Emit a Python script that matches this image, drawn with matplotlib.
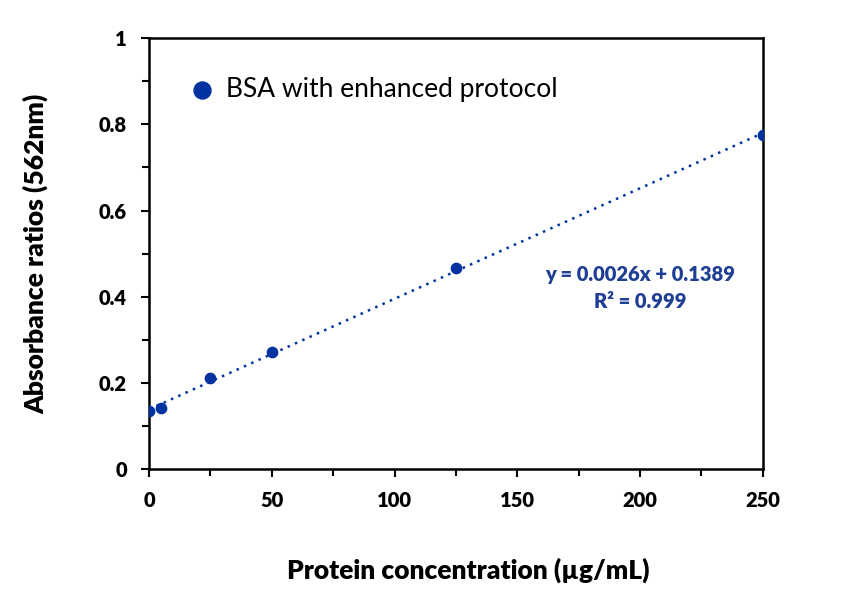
import numpy as np
import matplotlib
matplotlib.use("Agg")
import matplotlib.pyplot as plt
from matplotlib.ticker import MultipleLocator

plt.rcParams['font.family'] = ['Lato', 'DejaVu Sans']

concentration = [0, 5, 25, 50, 125, 250]
absorbance = [0.135, 0.141, 0.211, 0.271, 0.466, 0.775]
series_label = "BSA with enhanced protocol"
equation_text = "y = 0.0026x + 0.1389\nR² = 0.999"

color = "#0033a0"
text_color = "#1f3f94"

fig = plt.figure(figsize=(8.58, 6.06), dpi=100)
ax = fig.add_axes([0.1737, 0.226, 0.7153, 0.711])

ax.scatter(concentration, absorbance, s=55, color=color, zorder=3, label=series_label)
slope, intercept = np.polyfit(concentration, absorbance, 1)
xs = np.array([min(concentration), max(concentration)])
ax.plot(xs, slope * xs + intercept, linestyle=(0, (1, 2.2)), color=color, lw=1.8, zorder=2)

ax.set_xlim(0, 250)
ax.set_ylim(0, 1)
ax.xaxis.set_major_locator(MultipleLocator(50))
ax.xaxis.set_minor_locator(MultipleLocator(25))
ax.yaxis.set_major_locator(MultipleLocator(0.2))
ax.yaxis.set_minor_locator(MultipleLocator(0.1))
ax.set_yticks([0, 0.2, 0.4, 0.6, 0.8, 1.0])
ax.set_yticklabels(["0", "0.2", "0.4", "0.6", "0.8", "1"])
ax.tick_params(which='both', direction='out', width=1.5, labelsize=14.5, pad=10)
ax.tick_params(which='major', length=6)
ax.tick_params(which='minor', length=5)
for lab in ax.get_xticklabels() + ax.get_yticklabels():
    lab.set_fontweight('heavy')
for sp in ax.spines.values():
    sp.set_linewidth(1.8)

ax.set_xlabel("Protein concentration (µg/mL)", fontsize=19, fontweight='heavy')
ax.xaxis.set_label_coords(0.52, -0.205)
ax.set_ylabel("Absorbance ratios (562nm)", fontsize=19, fontweight='heavy', labelpad=36)

leg = ax.legend(loc='upper left', bbox_to_anchor=(0.022, 0.965), frameon=False,
                fontsize=19, handlelength=1.2, handletextpad=0.3, markerscale=1.65)

ax.text(0.80, 0.42, equation_text, transform=ax.transAxes, ha='center', va='center',
        fontsize=14.5, fontweight='heavy', color=text_color, linespacing=1.45)

fig.savefig("out.png", dpi=100)
